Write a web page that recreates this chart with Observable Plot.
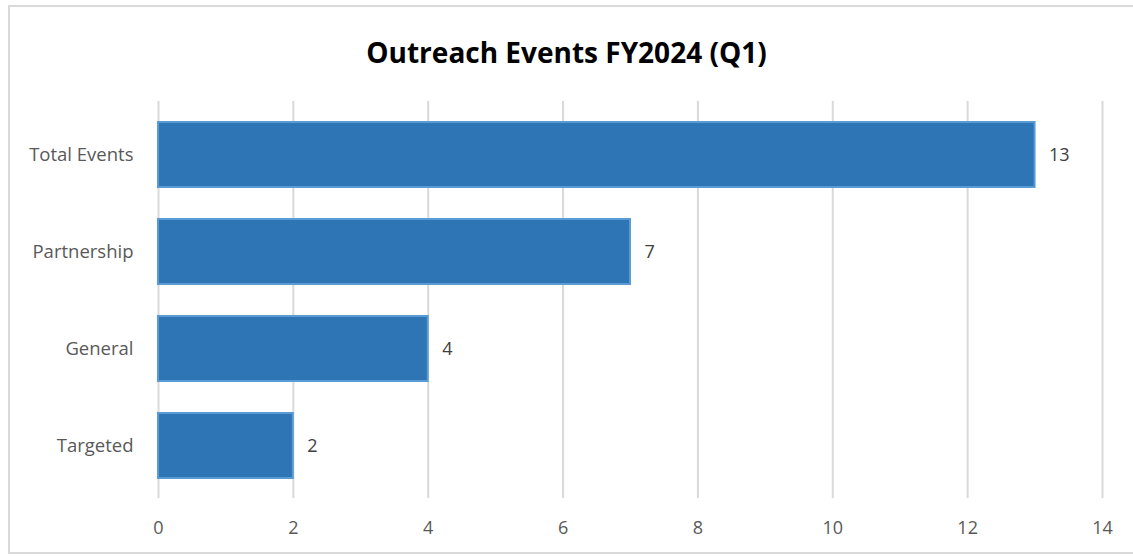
<!DOCTYPE html>
<html>
<head>
<meta charset="utf-8">
<script src="https://cdn.jsdelivr.net/npm/d3@7"></script>
<script src="https://cdn.jsdelivr.net/npm/@observablehq/plot@0.6"></script>
<style>
  html, body { margin: 0; padding: 0; background: #fff; overflow: hidden; }
  #wrap { position: relative; width: 1133px; height: 557px; overflow: hidden; background: #fff; }
  #border { position: absolute; left: 8px; top: 5px; width: 1140px; height: 549px; border: 2px solid #d9d9d9; box-sizing: border-box; }
  #title { position: absolute; left: 0; top: 0; width: 1133px; height: 80px; text-align: center;
           font-family: "Open Sans", sans-serif; font-weight: 700; font-size: 28px; line-height: 104px; color: #000; }
  #chart { position: absolute; left: 0; top: 80px; }
</style>
</head>
<body>
<div id="wrap">
  <div id="border"></div>
  <div id="title">Outreach Events FY2024 (Q1)</div>
  <div id="chart"></div>
</div>
<script>
const categories = ["Total Events", "Partnership", "General", "Targeted"];
const values = [13, 7, 4, 2];
const xTicks = [0, 2, 4, 6, 8, 10, 12, 14];

const data = categories.map((c, i) => ({category: c, value: values[i]}));

const chart = Plot.plot({
  width: 1133,
  height: 477,
  marginLeft: 158,
  marginRight: 31,
  marginTop: 21,
  marginBottom: 59,
  style: {fontFamily: "'Open Sans', sans-serif", background: "transparent"},
  x: {domain: [0, 14], ticks: xTicks, tickSize: 0, tickPadding: 23, label: null},
  y: {domain: categories, paddingInner: 0.33, paddingOuter: 0.21, tickSize: 0, tickPadding: 25, label: null},
  marks: [
    Plot.ruleX(xTicks, {stroke: "#d9d9d9", strokeWidth: 2}),
    Plot.barX(data, {x: "value", y: "category", fill: "#2e75b6", stroke: "#5b9bd5", strokeWidth: 2}),
    Plot.text(data, {x: "value", y: "category", text: d => String(d.value), dx: 14, textAnchor: "start", fill: "#404040", fontSize: 18}),
    Plot.axisX({ticks: xTicks, tickSize: 0, tickPadding: 23, fontSize: 18, color: "#595959", label: null}),
    Plot.axisY({tickSize: 0, tickPadding: 25, fontSize: 18.5, color: "#595959", label: null})
  ]
});
document.getElementById("chart").appendChild(chart);
</script>
</body>
</html>
